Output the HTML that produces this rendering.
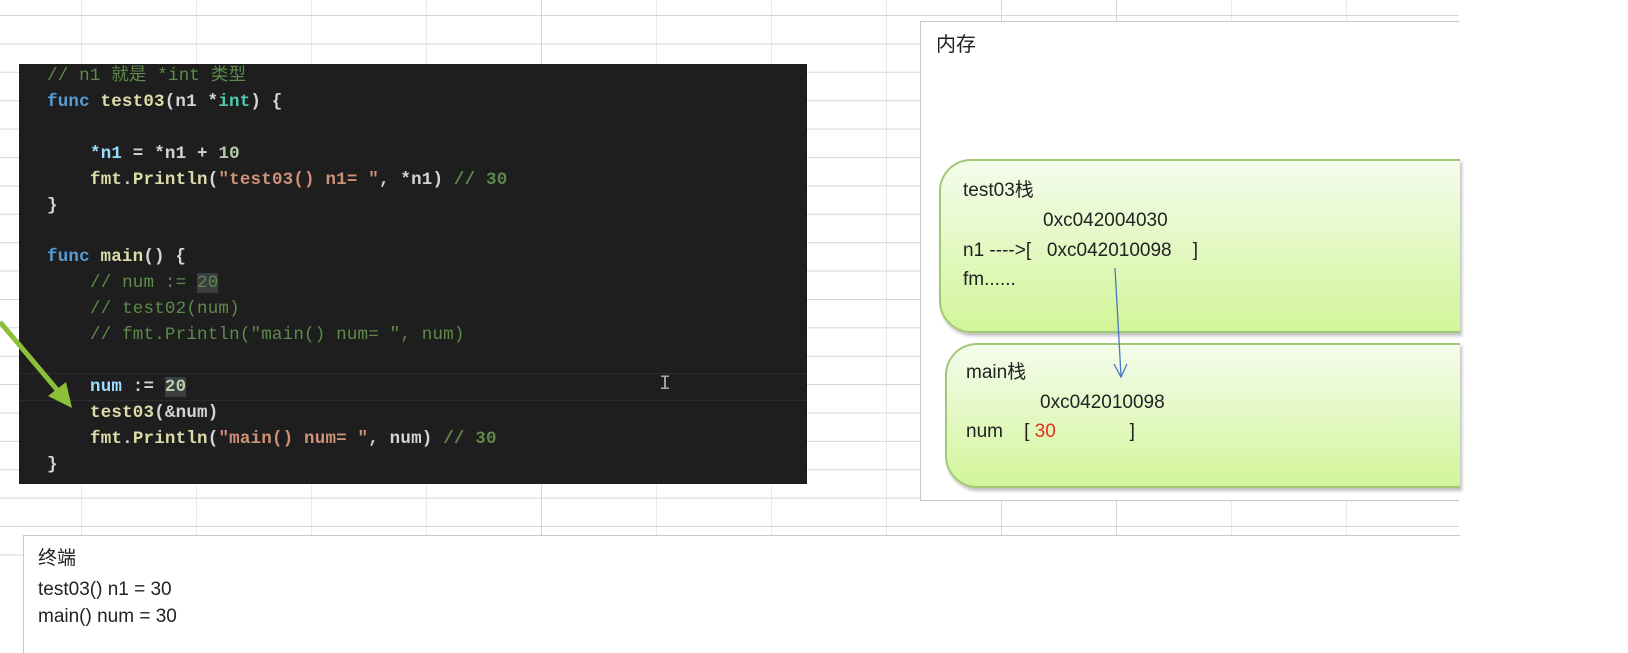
<!DOCTYPE html>
<html><head><meta charset="utf-8"><style>
body{margin:0;width:1628px;height:652px;overflow:hidden;background:#fff;position:relative;font-family:"Liberation Sans","Noto Sans CJK SC",sans-serif}
.grid{position:absolute;left:0;top:0;width:1459px;height:560px;
background-image:linear-gradient(to right,#d6d6d6 1px,transparent 1px),linear-gradient(to bottom,#d6d6d6 1px,transparent 1px);
background-size:115px 28.4px;background-position:81px 15px}
.code{position:absolute;left:19px;top:64px;width:788px;height:420px;background:#1e1e1e;font-family:"Liberation Mono","Noto Sans CJK SC",monospace;font-weight:bold;font-size:17.5px;color:#d4d4d4;letter-spacing:0.2px}
.code div{position:absolute;white-space:pre;line-height:22px}
.c{color:#5d8a4a}.k{color:#569cd6}.f{color:#dcdcaa}.s{color:#ce9178}.n{color:#b5cea8}.v{color:#9cdcfe}.t{color:#4ec9b0}
.mem{position:absolute;left:920px;top:21px;width:538px;height:478px;background:#fff;border:1px solid #c8c8c8;border-right:none}
.gbox{position:absolute;border:2px solid #a2c877;border-right:none;border-radius:32px 0 0 32px;background:linear-gradient(#f4fcec,#d2f59a);box-shadow:2px 3px 3px rgba(0,0,0,.25)}
.t19{position:absolute;font-size:19px;color:#222;white-space:pre;line-height:22px}
.term{position:absolute;left:23px;top:535px;width:1436px;height:117px;background:#fff;border-left:1px solid #c8c8c8;border-top:1px solid #c8c8c8}
</style></head><body>
<div class="grid"></div>
<div class="code">
<div style="left:28px;top:1px;height:24px;background:none"></div>
<div class="c" style="left:28px;top:1px;font-weight:normal">// n1 就是 *int 类型</div>
<div style="left:28px;top:27px"><span class="k">func</span> <span class="f">test03</span>(n1 *<span class="t">int</span>) {</div>
<div style="left:71px;top:79px"><span class="v">*n1</span> = *n1 + <span class="n">10</span></div>
<div style="left:71px;top:105px"><span class="f">fmt</span>.<span class="f">Println</span>(<span class="s">"test03() n1= "</span>, *n1) <span class="c">// 30</span></div>
<div style="left:28px;top:131px">}</div>
<div style="left:28px;top:182px"><span class="k">func</span> <span class="f">main</span>() {</div>
<div class="c" style="left:71px;top:208px;font-weight:normal">// num := <span style="background:#3a3d41">20</span></div>
<div class="c" style="left:71px;top:234px;font-weight:normal">// test02(num)</div>
<div class="c" style="left:71px;top:260px;font-weight:normal">// fmt.Println("main() num= ", num)</div>
<div style="left:0;top:309px;width:788px;height:26px;border-top:1px solid #2c2c2c;border-bottom:1px solid #2c2c2c"></div>
<div style="left:71px;top:312px"><span class="v">num</span> := <span class="n" style="background:#3a3d41">20</span></div>
<div style="left:71px;top:338px"><span class="f">test03</span>(&amp;num)</div>
<div style="left:71px;top:364px"><span class="f">fmt</span>.<span class="f">Println</span>(<span class="s">"main() num= "</span>, num) <span class="c">// 30</span></div>
<div style="left:28px;top:390px">}</div>
<div style="left:640px;top:310px;color:#aaa;font-weight:normal;font-size:20px">I</div>
</div>
<svg style="position:absolute;left:0;top:0" width="120" height="430"><line x1="0" y1="322" x2="64" y2="398" stroke="#8cc03a" stroke-width="5"/><polygon points="72,408 48,396 66,382" fill="#8cc03a"/></svg>
<div class="mem">
<div class="t19" style="left:15px;top:12px;font-size:20px">内存</div>
</div>
<div class="gbox" style="left:939px;top:159px;width:519px;height:170px"></div>
<div class="gbox" style="left:945px;top:343px;width:513px;height:141px"></div>
<div class="t19" style="left:963px;top:180px">test03栈</div>
<div class="t19" style="left:1043px;top:210px">0xc042004030</div>
<div class="t19" style="left:963px;top:240px">n1 ----&gt;[   0xc042010098    ]</div>
<div class="t19" style="left:963px;top:269px">fm......</div>
<div class="t19" style="left:966px;top:362px">main栈</div>
<div class="t19" style="left:1040px;top:392px">0xc042010098</div>
<div class="t19" style="left:966px;top:421px">num    [ <span style="color:#e0301e">30</span>              ]</div>
<svg style="position:absolute;left:1100px;top:260px" width="40" height="125"><line x1="15" y1="8" x2="21" y2="116" stroke="#4a78c0" stroke-width="1.3"/><polyline points="14,104 21,117 27,104" fill="none" stroke="#4a78c0" stroke-width="1.3"/></svg>
<div class="term">
<div class="t19" style="left:14px;top:12px">终端</div>
<div class="t19" style="left:14px;top:43px">test03() n1 = 30</div>
<div class="t19" style="left:14px;top:70px">main() num = 30</div>
</div>
</body></html>
